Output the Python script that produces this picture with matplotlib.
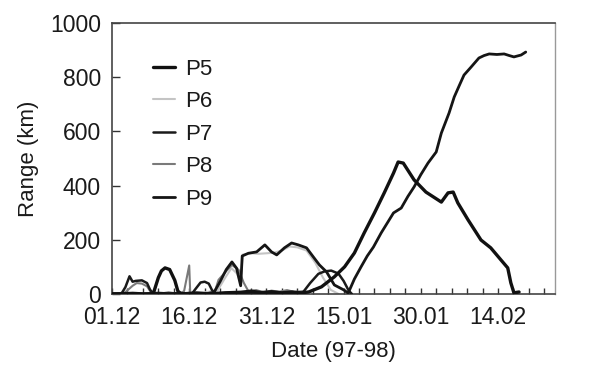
import matplotlib
matplotlib.use("Agg")
import matplotlib.pyplot as plt
from matplotlib.ticker import MultipleLocator

plt.rcParams["font.family"] = ["Liberation Sans", "DejaVu Sans"]

# Days counted from 01.12.1997; range in km
date_labels = ["01.12", "16.12", "31.12", "15.01", "30.01", "14.02"]
date_ticks = [0, 15, 30, 45, 60, 75]

days5 = [0, 2, 4, 6, 8.0, 9.0, 9.6, 10.3, 11.2, 12.2, 12.8, 13.5, 16, 19, 22, 25, 27, 29, 31, 33, 35, 36.8,
         38.2, 40.7, 43.2, 45.2, 47.1, 49.0, 51.0, 52.9, 54.7, 55.6, 56.6, 58.7, 61.0, 64.0, 65.3, 66.3,
         67.2, 69.2, 71.7, 73.6, 75.6, 76.9, 77.5, 78.1, 79.1]
range5 = [0, 0, 2, 0, 0, 60, 85, 96, 90, 50, 10, 0, 3, 0, 4, 6, 10, 5, 8, 4, 7, 4,
          7, 26, 63, 100, 151, 225, 299, 373, 446, 487, 483, 421, 376, 339, 373, 376,
          336, 273, 199, 170, 125, 96, 41, 4, 7]

days6 = [0, 3, 6, 9, 12, 15, 18, 20.5, 22.0, 23.2, 24.3, 25.0, 25.4, 27, 28.5, 30.0, 31.5, 33.0,
         34.5, 36, 37.8, 39.5, 41, 42.5, 44]
range6 = [0, 4, 0, 3, 0, 2, 6, 12, 60, 95, 75, 40, 145, 150, 148, 150, 152, 160,
          175, 172, 160, 115, 60, 15, 0]

days7 = [0, 1.8, 2.6, 3.4, 4.0, 4.6, 5.8, 6.8, 7.4, 8.0, 10, 13, 15.5, 16.3, 17.2, 18.0, 18.8, 19.4,
         20.0, 23, 26, 29, 32, 35, 37.0, 38.5, 40.1, 41.3, 42.6, 44.0, 45.0, 46.0, 46.6]
range7 = [0, 0, 25, 65, 45, 48, 50, 40, 15, 2, 0, 3, 0, 20, 42, 45, 38, 15,
          2, 4, 2, 5, 3, 2, 3, 40, 74, 83, 86, 75, 48, 12, 0]

days8 = [0, 2.5, 4.0, 4.8, 5.8, 6.8, 7.6, 9, 11, 13, 14.0, 15.0, 15.2, 16.5, 18.5, 20.0, 20.7, 22.0,
         23.3, 24.6, 25.6, 26.5, 28, 29.5, 31, 32.5, 34, 35.5, 37, 38.5]
range8 = [0, 5, 30, 40, 38, 28, 5, 0, 6, 0, 10, 105, 3, 6, 2, 10, 52, 80,
          107, 89, 41, 10, 14, 6, 12, 8, 14, 7, 10, 0]

days9 = [0, 3, 6, 9, 12, 15, 18, 19.8, 21, 22.2, 23.3, 24.2, 25.0, 25.3, 26.5, 28.1, 29.7, 31.0,
         32.0, 33.5, 34.9, 36.2, 37.8, 39.1, 40.3, 41.7, 43.2, 45.0, 45.9, 47.1, 48.4, 49.6, 50.8,
         52.3, 53.5, 54.7, 56.2, 57.5, 58.7, 60.0, 61.4, 63.0, 64.0, 65.5, 66.5, 67.5, 68.4, 69.8,
         71.3, 72.3, 73.3, 74.8, 76.2, 77.2, 78.1, 79.5, 80.4]
range9 = [0, 2, 0, 3, 0, 2, 0, 5, 45, 90, 118, 95, 30, 140, 150, 155, 181, 155,
          144, 170, 188, 181, 170, 137, 107, 81, 33, 15, 3, 55, 100, 140, 173,
          225, 262, 299, 317, 360, 395, 440, 483, 524, 594, 668, 727, 770, 808, 838,
          871, 880, 886, 884, 886, 880, 875, 882, 893]

series = [
    ("P5", days5, range5, "#111111", 2.4, 6),
    ("P6", days6, range6, "#c4c4c4", 1.5, 2),
    ("P7", days7, range7, "#1a1a1a", 1.8, 4),
    ("P8", days8, range8, "#7a7a7a", 1.5, 3),
    ("P9", days9, range9, "#151515", 2.0, 5),
]

fig = plt.figure(figsize=(5.94, 3.66), dpi=100)
ax = fig.add_axes([0.1886, 0.197, 0.745, 0.740])

for name, d, r, c, lw, z in series:
    ax.plot(d, r, color=c, lw=lw, label=name, zorder=z,
            solid_joinstyle="round", solid_capstyle="round")

ax.set_xlim(0, 86)
ax.set_ylim(0, 1000)
ax.set_xticks(date_ticks)
ax.set_xticklabels(date_labels)
ax.xaxis.set_minor_locator(MultipleLocator(3))
ax.set_yticks([0, 200, 400, 600, 800, 1000])

ax.tick_params(axis="both", which="both", direction="in", labelsize=16.5,
               colors="#333333", labelcolor="#1a1a1a")
ax.tick_params(axis="y", which="major", length=6, width=1, pad=8)
ax.tick_params(axis="x", which="major", length=4, width=1, pad=9)
ax.tick_params(axis="x", which="minor", length=4, width=1)

for side in ["left", "bottom", "top"]:
    ax.spines[side].set_color("#444444")
    ax.spines[side].set_linewidth(1.2)
ax.spines["right"].set_color("#999999")
ax.spines["right"].set_linewidth(1.0)

ax.set_xlabel("Date (97-98)", fontsize=16, color="#1a1a1a", labelpad=8)
ax.set_ylabel("Range (km)", fontsize=16, color="#1a1a1a", labelpad=8)

leg = ax.legend(loc="upper left", bbox_to_anchor=(0.2576, 0.840),
                bbox_transform=fig.transFigure, frameon=False, fontsize=16,
                handlelength=1.0, handletextpad=0.45, labelspacing=0.52,
                borderpad=0, borderaxespad=0)
for t in leg.get_texts():
    t.set_color("#1a1a1a")

fig.savefig("out.png", dpi=100, facecolor="white")
